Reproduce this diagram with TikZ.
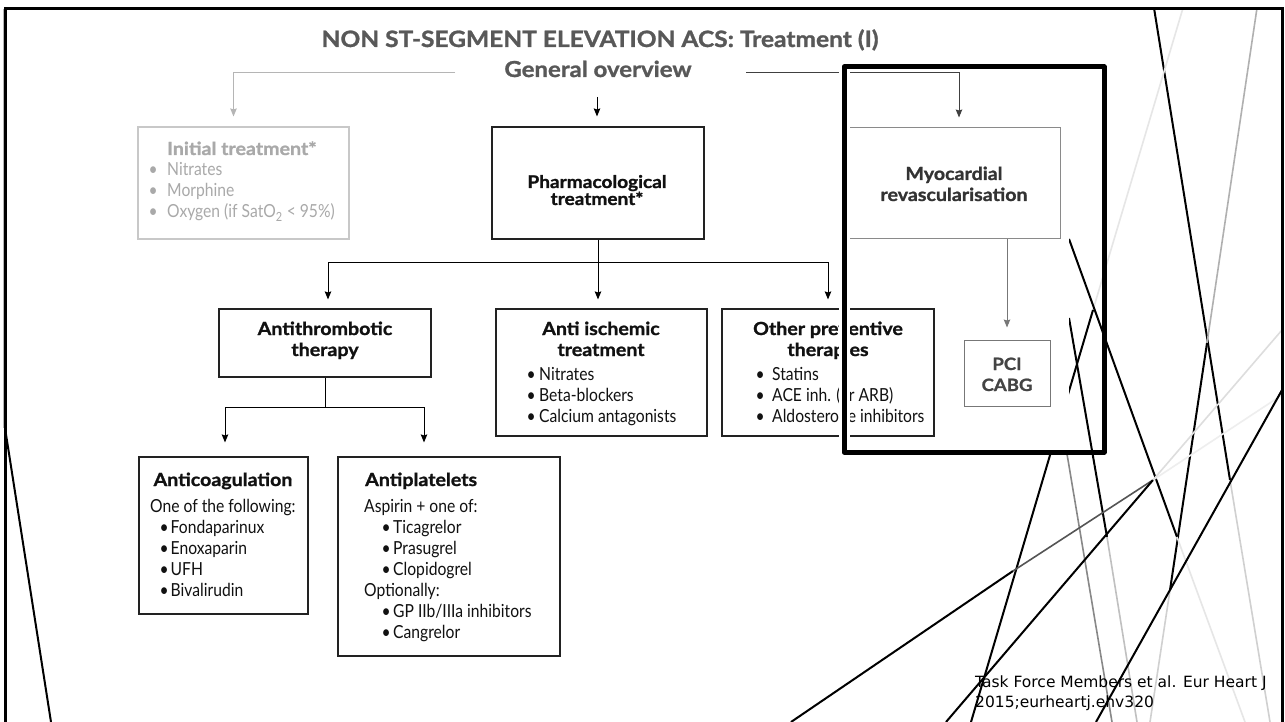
\documentclass[tikz,border=0pt]{standalone}
\usepackage{fontspec}
\setmainfont{Lato}[FakeStretch=0.87]
\newfontfamily\hb{Lato}[FakeStretch=1.09,BoldFeatures={FakeBold=1.2}]
\newfontfamily\citefont{DejaVu Sans}
\usetikzlibrary{arrows.meta,calc}
\definecolor{titlegray}{HTML}{585858}
\definecolor{initgray}{HTML}{A9A9A9}
\definecolor{initline}{HTML}{C8C8C8}
\definecolor{leftline}{HTML}{B5B5B5}
\definecolor{darkline}{HTML}{404040}
\definecolor{myoline}{HTML}{8A8A8A}
\definecolor{myotext}{HTML}{333333}
\definecolor{pciline}{HTML}{777777}
\definecolor{pcitext}{HTML}{444444}
\definecolor{boxline}{HTML}{222222}
\definecolor{ink}{HTML}{111111}
\definecolor{g1}{HTML}{D0D0D0}
\definecolor{g2}{HTML}{B0B0B0}
\definecolor{g3}{HTML}{E6E6E6}
\definecolor{g4}{HTML}{C0C0C0}
\definecolor{g5}{HTML}{888888}
\definecolor{g6}{HTML}{555555}
\definecolor{g7}{HTML}{EEEEEE}
\definecolor{g8}{HTML}{DDDDDD}
\newcommand{\bullit}[2]{\makebox[#1][l]{\hspace{-1.5pt}•}#2}
\begin{document}
\begin{tikzpicture}[x=1pt,y=-1pt,
  boxn/.style={draw=boxline,line width=1.1pt,inner sep=0pt,rectangle},
  tx/.style={anchor=base west,inner sep=0pt,text=ink,font=\fontsize{18}{21}\selectfont},
  txb/.style={anchor=base,inner sep=0pt,text=ink,font=\hb\fontsize{18}{21}\selectfont\bfseries},
  txbw/.style={anchor=base west,inner sep=0pt,text=ink,font=\hb\fontsize{18}{21}\selectfont\bfseries},
  arr/.style={-{Stealth[length=8pt,width=6.5pt,inset=1pt]},line width=1pt},
  deco/.style={line width=2pt,black},
  decog/.style={line width=1.6pt}]
\useasboundingbox (0,0) rectangle (1285,722);
\fill[white] (0,0) rectangle (1285,722);
% ---------- decorative lines ----------
\draw[deco] (1154,8) -- (1230,480);
\draw[decog,g1] (1230,480) -- (1270,722);
\draw[decog,g2] (1257,8) -- (1207,343);
\draw[deco] (1207,343) -- (1170,590);
\draw[decog,g1] (1170,590) -- (1150,722);
\draw[decog,g3] (1183,8) -- (1093,310);
\draw[deco] (1093,310) -- (971,722);
\draw[deco] (1069,239) -- (1177,537);
\draw[decog,g3] (1177,537) -- (1245,722);
\draw[deco] (1069,318) -- (1107,537);
\draw[decog,g4] (1107,537) -- (1137,722);
\draw[decog,g5] (1067,454) -- (1112,722);
\draw[deco] (791,722) -- (1013,571);
\draw[decog,g6] (1013,571) -- (1153,480);
\draw[decog,g7] (1153,480) -- (1282,395);
\draw[deco] (946,722) -- (1153,480);
\draw[decog,g8] (1153,480) -- (1282,330);
\draw[deco] (1096,722) -- (1282,390);
\draw[deco] (5,428) -- (51,722);
% white area of the diagram
\fill[white] (60,20) rectangle (1069,452);
% ---------- frame ----------
\draw[line width=1pt,leftline] (3.3,9) -- (3.3,428);
\draw[line width=2.7pt,black] (5.5,722) -- (5.5,8.5) -- (1282.5,8.5) -- (1282.5,722);
% ---------- title ----------
\node[anchor=base,inner sep=0pt,text=titlegray,font=\hb\fontsize{22.5}{26}\selectfont\bfseries] (title) at (600,47) {NON ST-SEGMENT ELEVATION ACS: Treatment (I)};
\node[anchor=base,inner sep=0pt,text=titlegray,font=\hb\fontsize{22}{26}\selectfont\bfseries] (gen) at (598,77) {General overview};
\coordinate (gl) at (455,73);
\coordinate (gr) at (746,73);
\coordinate (gm) at (597,97);
% ---------- boxes ----------
\node[boxn,draw=initline,minimum width=211pt,minimum height=112pt] (init) at (243.5,183) {};
\node[boxn,minimum width=212pt,minimum height=112pt] (pharm) at (598,183) {};
\node[boxn,draw=myoline,line width=1pt,minimum width=212pt,minimum height=111pt] (myo) at (954,183.5) {};
\node[boxn,minimum width=212pt,minimum height=68pt] (thromb) at (325,343) {};
\node[boxn,minimum width=211pt,minimum height=127pt] (isch) at (601.5,372.5) {};
\node[boxn,minimum width=212pt,minimum height=127pt] (other) at (828,372.5) {};
\node[boxn,draw=pciline,line width=1pt,minimum width=86pt,minimum height=66pt] (pci) at (1007,373) {};
\node[boxn,minimum width=169pt,minimum height=157pt] (coag) at (223.5,535.5) {};
\node[boxn,minimum width=222pt,minimum height=199pt] (plat) at (449,556.5) {};
% ---------- texts ----------
\node[txbw,text=initgray] (i0) at (167,155) {Initial treatment*};
\node[tx,text=initgray] (i1) at (150,176) {\bullit{17pt}{Nitrates}};
\node[tx,text=initgray] (i2) at (150,197) {\bullit{17pt}{Morphine}};
\node[tx,text=initgray] (i3) at (150,218) {\bullit{17pt}{Oxygen (if SatO\textsubscript{2} < 95\%)}};
\node[txb,font=\hb\fontsize{17.5}{21}\selectfont\bfseries] (p0) at (597,188) {Pharmacological};
\node[txb,font=\hb\fontsize{17.5}{21}\selectfont\bfseries] (p1) at (597,205) {treatment*};
\node[txb,text=myotext,font=\hb\fontsize{18}{21}\selectfont\bfseries] (m0) at (954,180) {Myocardial};
\node[txb,text=myotext,font=\hb\fontsize{18}{21}\selectfont\bfseries] (m1) at (954,201) {revascularisation};
\node[txb,text=pcitext,font=\hb\fontsize{17}{21}\selectfont\bfseries] (c0) at (1007,370) {PCI};
\node[txb,text=pcitext,font=\hb\fontsize{17}{21}\selectfont\bfseries] (c1) at (1007,391) {CABG};
\node[txb] (a0) at (325,335) {Antithrombotic};
\node[txb] (a1) at (325,356) {therapy};
\node[txb] (s0) at (601,335) {Anti ischemic};
\node[txb] (s1) at (601,356) {treatment};
\node[tx] (s2) at (528,380) {\bullit{11pt}{Nitrates}};
\node[tx] (s3) at (528,401) {\bullit{11pt}{Beta-blockers}};
\node[tx] (s4) at (528,422) {\bullit{11pt}{Calcium antagonists}};
\node[txb] (o0) at (828,335) {Other preventive};
\node[txb] (o1) at (828,356) {therapies};
\node[tx] (o2) at (757,380) {\bullit{15pt}{Statins}};
\node[tx] (o3) at (757,401) {\bullit{15pt}{ACE inh. (or ARB)}};
\node[tx] (o4) at (757,422) {\bullit{15pt}{Aldosterone inhibitors}};
\node[txb] (k0) at (223,486) {Anticoagulation};
\node[tx] (k1) at (150,512) {One of the following:};
\node[tx] (k2) at (161,533) {\bullit{9.5pt}{Fondaparinux}};
\node[tx] (k3) at (161,554) {\bullit{9.5pt}{Enoxaparin}};
\node[tx] (k4) at (161,575) {\bullit{9.5pt}{UFH}};
\node[tx] (k5) at (161,596) {\bullit{9.5pt}{Bivalirudin}};
\node[txbw] (l0) at (365,486) {Antiplatelets};
\node[tx] (l1) at (364,512) {Aspirin + one of:};
\node[tx] (l2) at (383,533) {\bullit{10pt}{Ticagrelor}};
\node[tx] (l3) at (383,554) {\bullit{10pt}{Prasugrel}};
\node[tx] (l4) at (383,575) {\bullit{10pt}{Clopidogrel}};
\node[tx] (l5) at (364,596) {Optionally:};
\node[tx] (l6) at (383,617) {\bullit{10pt}{GP IIb/IIIa inhibitors}};
\node[tx] (l7) at (383,638) {\bullit{10pt}{Cangrelor}};
% ---------- connectors ----------
\draw[arr,leftline] (gl) -| ([xshift=-10pt,yshift=10pt]init.north);
\draw[arr,black] (gm) -- ([yshift=10pt]gm |- pharm.north);
\draw[arr,darkline] (gr) -| ([xshift=5pt,yshift=10pt]myo.north);
\draw[line width=1pt] (pharm.south) -- ++(0,23) coordinate (pj);
\draw[arr] (pj) -- ([yshift=9pt]pj |- isch.north);
\draw[arr] (pj) -| ([xshift=3pt,yshift=9pt]thromb.north);
\draw[arr] (pj) -| ([yshift=9pt]other.north);
\draw[arr,pciline] (myo.south -| pci.north) -- ([yshift=12pt]pci.north);
\draw[line width=1pt] (thromb.south) -- ++(0,30) coordinate (tj);
\draw[arr] (tj) -| ([xshift=1.5pt,yshift=14pt]coag.north);
\draw[arr] (tj) -| ([xshift=-25pt,yshift=14pt]plat.north);
% ---------- highlight ----------
\draw[white,line width=11pt] (844,67) -- (844,452);
\draw[black,line width=5pt,line join=round] (844,67) rectangle (1104,452);
% ---------- citation ----------
\node[anchor=base west,inner sep=0pt,font=\citefont\fontsize{15.5}{19}\selectfont,text=black] (cite1) at (975,687) {Task Force Members et al. Eur Heart J};
\node[anchor=base west,inner sep=0pt,font=\citefont\fontsize{15.5}{19}\selectfont,text=black] (cite2) at (975,707) {2015;eurheartj.ehv320};
\end{tikzpicture}
\end{document}
